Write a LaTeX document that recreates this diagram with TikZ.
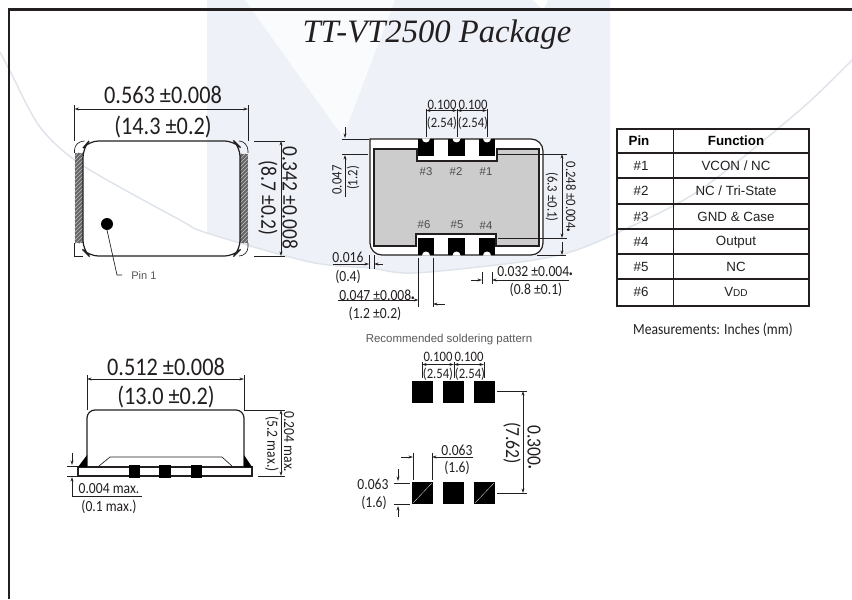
\documentclass[tikz,border=0pt]{standalone}
\usepackage{fontspec}
\usepackage{tikz}
\usetikzlibrary{arrows.meta,patterns}
\setmainfont[FakeStretch=0.88]{Carlito}
\newfontfamily\arialfont{Liberation Sans}
\newfontfamily\titlefont{Liberation Serif}
\newcommand{\tinydot}{{\fontsize{6}{6}\selectfont •}}
\definecolor{inkdark}{HTML}{231F20}
\definecolor{bandpale}{HTML}{EEF2F8}
\definecolor{wedgepale}{HTML}{F9FBFD}
\definecolor{arcpale}{HTML}{DFE4EB}
\definecolor{bodygrey}{HTML}{CCCCCC}
\definecolor{padgrey}{HTML}{666666}
\tikzset{
 thinline/.style={draw=inkdark,line width=0.5pt},
 outline/.style={draw=inkdark,line width=0.9pt},
 dimboth/.style={thinline,{Stealth[length=3.5pt,width=2.2pt]}-{Stealth[length=3.5pt,width=2.2pt]}},
 dimend/.style={thinline,-{Stealth[length=3.5pt,width=2.2pt]}},
 padfill/.style={fill=black},
 bigtext/.style={font=\fontsize{19}{22}\selectfont,text=inkdark,inner sep=0pt},
 sidetext/.style={font=\fontsize{16.6}{20}\selectfont,text=inkdark,inner sep=0pt},
 landtext/.style={font=\fontsize{15}{18}\selectfont,text=inkdark,inner sep=0pt},
 midtext/.style={font=\fontsize{11.6}{14}\selectfont,text=inkdark,inner sep=0pt},
 smalltext/.style={font=\fontsize{10.8}{13}\selectfont,text=inkdark,inner sep=0pt},
 padtext/.style={font=\arialfont\fontsize{8.5}{10}\selectfont,text=black!70,inner sep=0pt},
 pintext/.style={font=\arialfont\fontsize{8.3}{10}\selectfont,text=black!65,inner sep=0pt},
 celltext/.style={font=\arialfont\fontsize{10}{12}\selectfont,text=inkdark,inner sep=0pt},
 headtext/.style={font=\arialfont\bfseries\fontsize{10}{12}\selectfont,text=black,inner sep=0pt},
}
\begin{document}
\begin{tikzpicture}[x=0.75pt,y=0.75pt,yscale=-1,xscale=1]
 \useasboundingbox (0,0) rectangle (852,599);
 \fill[white] (0,0) rectangle (852,599);
 %watermark
 \fill[bandpale] plot[smooth] coordinates {(207,233) (310,262) (370,268) (413,273) (513,263) (567,253) (610,236)} -- (610,0) -- (207,0) -- cycle;
 \fill[wedgepale] (245,0) -- (395,0) -- (343,137) -- cycle;
 \fill[white] (533,0) -- (548,0) -- (543,10) -- cycle;
 \draw[arcpale,line width=1.1pt] plot[smooth] coordinates {(0,52) (11,73) (40,127) (82,165) (180,220) (207,233) (310,262) (370,268) (413,273) (513,263) (567,253) (617,233) (700,190) (800,110) (852,60)};
 %frame
 \draw[inkdark,line width=1.9pt] (9,599) -- (9,9.5) -- (852,9.5);
 \draw (437,35) node [font=\titlefont\itshape\fontsize{24.5}{28}\selectfont,text=inkdark,inner sep=0pt] (title) {TT-VT2500 Package};

 %top view
 \fill[padgrey] (74.5,153) rectangle (83,243);
 \fill[padgrey] (240,154) rectangle (248,243);
 \fill[pattern=north east lines,pattern color=white!75!black] (74.5,153) rectangle (83,243);
 \fill[pattern=north east lines,pattern color=white!75!black] (240,154) rectangle (248,243);
 \draw[thinline] (74.5,153) -- (74.5,150) arc (180:270:10 and 9);
 \draw[thinline] (74.5,243) -- (74.5,256) -- (83,256);
 \draw[thinline] (248,153) -- (248,151) arc (0:-90:9 and 10);
 \draw[thinline] (248,243) -- (248,247) arc (0:90:9 and 9);
 \draw[outline,rounded corners=7] (83,148) -- (83,250) -- (89,256) -- (234,256) -- (240,250) -- (240,147) -- (234,141) -- (89,141) -- cycle;
 \draw[thinline] (74.5,105) -- (74.5,141);
 \draw[thinline] (248,105) -- (248,141);
 \draw[dimboth] (74.5,109) -- (248,109);
 \draw (163,95) node [bigtext] (topwidthin) {0.563 ±0.008};
 \draw (163,127) node [bigtext] (topwidthmm) {(14.3 ±0.2)};
 \draw[thinline] (254,141) -- (285,141);
 \draw[thinline] (254,256) -- (285,256);
 \draw[dimboth] (281,141) -- (281,256);
 \draw (290,198) node [sidetext,rotate=-90] (topheightin) {0.342 ±0.008};
 \draw (268,198) node [sidetext,rotate=-90] (topheightmm) {(8.7 ±0.2)};
 \fill[black] (107,224) circle (6);
 \draw[thinline] (107,230) -- (117,275) -- (122,275);
 \draw (131,275) node [pintext,anchor=west] (pinone) {Pin 1};

 %bottom view
 \draw[outline,fill=white] (370,139) -- (531,139) arc (-90:0:12) -- (543,243) arc (0:90:12) -- (382,255) arc (90:180:12) -- cycle;
 \draw[outline,fill=bodygrey] (374,149) -- (417,149) -- (417,161) -- (497,161) -- (497,149) -- (539,149) -- (539,246) -- (496,246) -- (496,234) -- (416,234) -- (416,246) -- (374,246) -- cycle;
 \fill[padfill] (418,139) rectangle (434,156);
 \fill[padfill] (448,139) rectangle (465,156);
 \fill[padfill] (479,139) rectangle (495,156);
 \fill[padfill] (418,238) rectangle (434,255);
 \fill[padfill] (448,238) rectangle (465,255);
 \fill[padfill] (479,238) rectangle (495,255);
 \fill[white] (422,138.5) arc (180:0:4);
 \fill[white] (452.5,138.5) arc (180:0:4);
 \fill[white] (483,138.5) arc (180:0:4);
 \fill[white] (422,255.5) arc (180:360:4);
 \fill[white] (452.5,255.5) arc (180:360:4);
 \fill[white] (483,255.5) arc (180:360:4);
 \draw (426,172) node [padtext] (padthree) {\#3};
 \draw (456,172) node [padtext] (padtwo) {\#2};
 \draw (486,172) node [padtext] (padone) {\#1};
 \draw (424,225) node [padtext] (padsix) {\#6};
 \draw (457,225) node [padtext] (padfive) {\#5};
 \draw (486,226) node [padtext] (padfour) {\#4};
 \draw[thinline] (426,109) -- (426,137);
 \draw[thinline] (457,109) -- (457,137);
 \draw[thinline] (487,109) -- (487,137);
 \draw[dimboth] (426,110.5) -- (457,110.5);
 \draw[dimboth] (457,110.5) -- (487,110.5);
 \draw (442,105) node [smalltext] (pitchain) {0.100};
 \draw (473,105) node [smalltext] (pitchbin) {0.100};
 \draw (442,123) node [smalltext] (pitchamm) {(2.54)};
 \draw (473,123) node [smalltext] (pitchbmm) {(2.54)};
 \draw[thinline] (342,139) -- (369,139);
 \draw[thinline] (342,154) -- (368,154);
 \draw[dimend] (345,127) -- (345,138);
 \draw[dimend] (345,197) -- (345,155);
 \draw (337,180) node [smalltext,rotate=90] (edgein) {0.047};
 \draw (353,178) node [smalltext,rotate=90] (edgemm) {(1.2)};
 \draw[thinline] (498,154) -- (567,154);
 \draw[thinline] (498,238) -- (567,238);
 \draw[thinline] (537,255) -- (566,255);
 \draw[dimboth] (562,154) -- (562,238);
 \draw[dimend] (562,242) -- (562,255);
 \draw (571,197) node [smalltext,rotate=-90] (spanin) {0.248 ±0.004\tinydot};
 \draw (552,197) node [smalltext,rotate=-90] (spanmm) {(6.3 ±0.1)};
 \draw (348,257) node [midtext] (gapin) {0.016};
 \draw (348,277) node [midtext] (gapmm) {(0.4)};
 \draw[thinline] (369,255) -- (369,269);
 \draw[thinline] (374,255) -- (374,269);
 \draw[dimend] (333,264) -- (369,264);
 \draw[dimend] (383,264) -- (374,264);
 \draw (377,295) node [midtext] (padwidthin) {0.047 ±0.008\tinydot};
 \draw (375,314) node [midtext] (padwidthmm) {(1.2 ±0.2)};
 \draw[thinline] (418.5,258) -- (418.5,307);
 \draw[thinline] (433,258) -- (433,307);
 \draw[dimend] (338,300) -- (418.5,300);
 \draw[dimend] (445,304) -- (433,304);
 \draw (535,272) node [midtext] (padgapin) {0.032 ±0.004\tinydot};
 \draw (536,290) node [midtext] (padgapmm) {(0.8 ±0.1)};
 \draw[thinline] (482,272) -- (482,284);
 \draw[thinline] (492,272) -- (492,284);
 \draw[dimend] (471,280) -- (482,280);
 \draw[dimend] (569,280) -- (492,280);

 %side view
 \draw[outline,rounded corners=6] (87,467) -- (87,410) -- (244,410) -- (244,467);
 \draw[outline] (78,467) rectangle (252,476);
 \draw[thinline] (99,466) -- (110,457) -- (222,457) -- (232,466);
 \fill[black] (78,467) -- (87,455) -- (87,467) -- cycle;
 \fill[black] (244,455) -- (252,467) -- (244,467) -- cycle;
 \fill[padfill] (129,465) rectangle (140,477.5);
 \fill[padfill] (159,465) rectangle (171,477.5);
 \fill[padfill] (191,465) rectangle (202,477.5);
 \draw[thinline] (87,375) -- (87,410);
 \draw[thinline] (244,375) -- (244,410);
 \draw[dimboth] (87,379) -- (244,379);
 \draw (166,367) node [bigtext] (sidewidthin) {0.512 ±0.008};
 \draw (166,397) node [bigtext] (sidewidthmm) {(13.0 ±0.2)};
 \draw[thinline] (244,410) -- (285,410);
 \draw[thinline] (258,476) -- (285,476);
 \draw[dimboth] (281,410) -- (281,476);
 \draw (289,442) node [midtext,rotate=-90] (sideheightin) {0.204 max.};
 \draw (272,444) node [midtext,rotate=-90] (sideheightmm) {(5.2 max.)};
 \draw[thinline] (67,466) -- (77,466);
 \draw[thinline] (67,476) -- (78,476);
 \draw[dimend] (72,453) -- (72,465);
 \draw[dimend] (72,496) -- (72,477);
 \draw[thinline] (72,496) -- (142,496);
 \draw (109,489) node [midtext] (standoffin) {0.004 max.};
 \draw (109,507) node [midtext] (standoffmm) {(0.1 max.)};

 %soldering pattern
 \draw (449,340) node [pintext,font=\arialfont\fontsize{8.6}{10}\selectfont] (soldertitle) {Recommended soldering pattern};
 \fill[padfill] (412,381) rectangle (433,403);
 \fill[padfill] (443,381) rectangle (464,403);
 \fill[padfill] (474,381) rectangle (495,403);
 \fill[padfill] (412,482) rectangle (433,504);
 \fill[padfill] (443,482) rectangle (464,504);
 \fill[padfill] (474,482) rectangle (495,504);
 \draw[white,line width=0.2pt] (413,503) -- (432,483);
 \draw[white,line width=0.2pt] (475,503) -- (494,483);
 \draw[thinline] (422,362) -- (422,378);
 \draw[thinline] (454,362) -- (454,378);
 \draw[thinline] (484,362) -- (484,378);
 \draw[dimboth] (422,364.5) -- (454,364.5);
 \draw[dimboth] (454,364.5) -- (484,364.5);
 \draw (438,357) node [smalltext] (landpitchain) {0.100};
 \draw (469,357) node [smalltext] (landpitchbin) {0.100};
 \draw (438,374) node [smalltext] (landpitchamm) {(2.54)};
 \draw (470,374) node [smalltext] (landpitchbmm) {(2.54)};
 \draw[thinline] (497,391) -- (527,391);
 \draw[thinline] (497,493) -- (527,493);
 \draw[dimboth] (523,391) -- (523,493);
 \draw (534,447) node [landtext,rotate=-90] (landspanin) {0.300\tinydot};
 \draw (512,443) node [landtext,rotate=-90] (landspanmm) {(7.62)};
 \draw[thinline] (413,453) -- (413,480);
 \draw[thinline] (432,453) -- (432,480);
 \draw[dimend] (401,457) -- (413,457);
 \draw[dimend] (473,457) -- (432,457);
 \draw (457,450) node [midtext] (landwidthin) {0.063};
 \draw (457,468) node [midtext] (landwidthmm) {(1.6)};
 \draw[thinline] (394,483) -- (410,483);
 \draw[thinline] (394,504) -- (410,504);
 \draw[dimend] (398,469) -- (398,481);
 \draw[dimend] (398,517) -- (398,506);
 \draw (373,484) node [midtext] (landheightin) {0.063};
 \draw (374,503) node [midtext] (landheightmm) {(1.6)};

 %table
 \draw[outline] (617,129) rectangle (809,306);
 \draw[thinline] (673,129) -- (673,306);
 \draw[outline] (617,153) -- (809,153);
 \draw[outline] (617,178) -- (809,178);
 \draw[outline] (617,204) -- (809,204);
 \draw[outline] (617,229) -- (809,229);
 \draw[outline] (617,254) -- (809,254);
 \draw[outline] (617,279) -- (809,279);
 \draw (639,141) node [headtext] (headpin) {Pin};
 \draw (736,141) node [headtext] (headfunction) {Function};
 \draw (641,166) node [celltext] (pinrowone) {\#1};
 \draw (641,191) node [celltext] (pinrowtwo) {\#2};
 \draw (641,217) node [celltext] (pinrowthree) {\#3};
 \draw (641,242) node [celltext] (pinrowfour) {\#4};
 \draw (641,267) node [celltext] (pinrowfive) {\#5};
 \draw (641,292) node [celltext] (pinrowsix) {\#6};
 \draw (736,166) node [celltext] (funcrowone) {VCON / NC};
 \draw (736,191) node [celltext] (funcrowtwo) {NC / Tri-State};
 \draw (736,217) node [celltext] (funcrowthree) {GND \& Case};
 \draw (736,242) node [celltext] (funcrowfour) {Output};
 \draw (736,267) node [celltext] (funcrowfive) {NC};
 \draw (736,292) node [celltext] (funcrowsix) {V{\fontsize{7.5}{9}\selectfont DD}};
 \draw (713,330) node [midtext] (units) {Measurements: Inches (mm)};
\end{tikzpicture}
\end{document}
